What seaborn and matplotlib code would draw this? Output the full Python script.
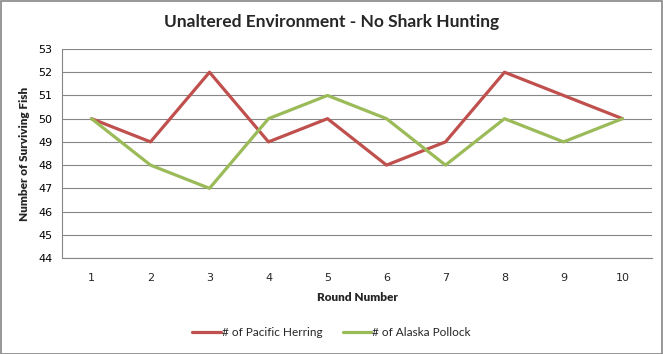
import matplotlib
matplotlib.use("Agg")
import matplotlib.pyplot as plt
import seaborn as sns
import pandas as pd
from matplotlib.patches import Rectangle

rounds = [1, 2, 3, 4, 5, 6, 7, 8, 9, 10]
herring = [50, 49, 52, 49, 50, 48, 49, 52, 51, 50]
pollock = [50, 48, 47, 50, 51, 50, 48, 50, 49, 50]
series_names = ["# of Pacific Herring", "# of Alaska Pollock"]
colors = ["#C0504D", "#9BBB59"]
yticks = [44, 45, 46, 47, 48, 49, 50, 51, 52, 53]

df = pd.DataFrame({
    "Round": rounds * 2,
    "Fish": herring + pollock,
    "Series": [series_names[0]] * len(rounds) + [series_names[1]] * len(rounds),
})

sns.set_style("white")
plt.rcParams["font.family"] = ["DejaVu Sans"]

fig = plt.figure(figsize=(6.63, 3.54), dpi=100)
ax = fig.add_axes([62 / 663, 96 / 354, 590 / 663, 209 / 354])

sns.lineplot(data=df, x="Round", y="Fish", hue="Series", palette=colors,
             linewidth=2.3, ax=ax, legend=True, zorder=3)

ax.set_xlim(0.5, 10.5)
ax.set_ylim(44, 53)
ax.set_yticks(yticks)
ax.set_yticklabels([str(v) for v in yticks], fontsize=8, color="#000000")
ax.set_xticks(rounds)
ax.set_xticklabels([str(r) for r in rounds], fontsize=8)
ax.set_xticks([r + 0.5 for r in [0] + rounds], minor=True)
ax.tick_params(axis="x", which="major", length=0, pad=11)
ax.tick_params(axis="x", which="minor", length=4, color="#868686", width=0.8, direction="out")
ax.tick_params(axis="y", which="major", length=4, color="#868686", width=0.8, direction="out", pad=3)
ax.yaxis.grid(True, color="#868686", linewidth=0.8)
ax.xaxis.grid(False)
for s in ["top", "right"]:
    ax.spines[s].set_visible(False)
for s in ["left", "bottom"]:
    ax.spines[s].set_color("#868686")
    ax.spines[s].set_linewidth(0.8)

ax.set_xlabel("Round Number", fontsize=8.5, fontweight="heavy", family=["Lato", "DejaVu Sans"], labelpad=6)
ax.set_ylabel("Number of Surviving Fish", fontsize=8.5, fontweight="heavy", family=["Lato", "DejaVu Sans"], labelpad=6)

fig.text(0.5, 0.938, "Unaltered Environment - No Shark Hunting", ha="center", va="center",
         fontsize=12.5, fontweight="bold", family=["Lato", "DejaVu Sans"])

ax.get_legend().remove()
handles, labels = ax.get_legend_handles_labels()
fig.legend(handles, labels, loc="center", bbox_to_anchor=(0.5, 0.06), ncol=2, frameon=False,
           handlelength=2.4, handletextpad=0.1, columnspacing=1.7,
           prop={"family": ["Lato", "DejaVu Sans"], "size": 8.5})

fig.patches.append(Rectangle((0.5 / 663, 0.5 / 354), 1 - 1.5 / 663, 1 - 1.5 / 354,
                             transform=fig.transFigure, fill=False, edgecolor="#868686", linewidth=1.2))

fig.savefig("out.png", dpi=100)
